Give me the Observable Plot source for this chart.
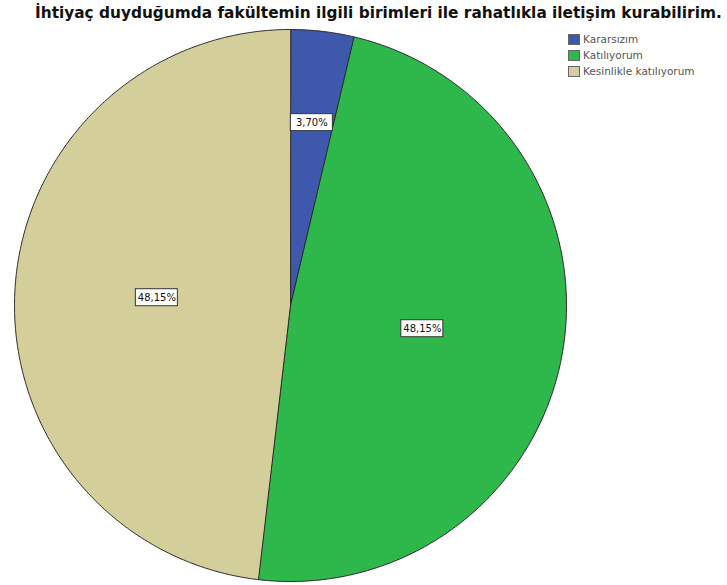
<!DOCTYPE html>
<html>
<head>
<meta charset="utf-8">
<script src="https://cdn.jsdelivr.net/npm/d3@7"></script>
<script src="https://cdn.jsdelivr.net/npm/@observablehq/plot@0.6"></script>
<style>
  body { margin: 0; background: #fff; }
  #wrap { position: relative; width: 727px; height: 585px; overflow: hidden; font-family: "DejaVu Sans", Verdana, sans-serif; }
  #title { position: absolute; top: 4px; left: 35px; font-weight: bold; font-size: 13px; color: #111; white-space: nowrap; z-index: 2; }
  #legend { position: absolute; top: 31px; left: 568px; font-size: 10.5px; color: #555; z-index: 2; }
  .item { display: flex; align-items: center; height: 16px; }
  .sw { width: 12px; height: 11px; border: 1px solid #666; margin-right: 3px; box-sizing: border-box; }
  #chart { position: absolute; top: 0; left: 0; }
</style>
</head>
<body>
<div id="wrap">
  <div id="title"></div>
  <div id="legend"></div>
  <div id="chart"></div>
</div>
<script>
const titleText = "İhtiyaç duyduğumda fakültemin ilgili birimleri ile rahatlıkla iletişim kurabilirim.";
const categories = ["Kararsızım", "Katılıyorum", "Kesinlikle katılıyorum"];
const percents = [3.70, 48.15, 48.15];
const labels = ["3,70%", "48,15%", "48,15%"];
const colors = ["#3e58ab", "#2eb74a", "#d4cf9a"];

const titleEl = document.getElementById("title");
titleEl.textContent = titleText;
// fit title to span the same width as in the reference
const targetW = 687;
const w0 = titleEl.getBoundingClientRect().width;
titleEl.style.fontSize = (13 * targetW / w0).toFixed(2) + "px";

const legend = document.getElementById("legend");
categories.forEach((c, i) => {
  const it = document.createElement("div");
  it.className = "item";
  const sw = document.createElement("div");
  sw.className = "sw";
  sw.style.background = colors[i];
  const tx = document.createElement("span");
  tx.textContent = c;
  it.appendChild(sw); it.appendChild(tx);
  legend.appendChild(it);
});

const W = 727, H = 585;
const cx = 290, cy = 305, R = 276;
const slices = d3.pie().sort(null).value(d => d.value)(
  categories.map((c, i) => ({category: c, value: percents[i], label: labels[i]}))
);

const pt = (a, r) => ({x: cx + r * Math.sin(a), y: cy - r * Math.cos(a)});
const outline = [];
slices.forEach(s => {
  const n = Math.max(4, Math.ceil((s.endAngle - s.startAngle) * 120));
  outline.push({category: s.data.category, ...pt(0, 0)});
  for (let k = 0; k <= n; k++) {
    const a = s.startAngle + (s.endAngle - s.startAngle) * k / n;
    outline.push({category: s.data.category, ...pt(a, R)});
  }
});

const boxW = 42, boxH = 17;
const labelData = slices.map(s => {
  const mid = (s.startAngle + s.endAngle) / 2;
  const frac = s.data.value < 10 ? 0.667 : 0.485;
  const p = pt(mid, R * frac);
  return {...p, label: s.data.label};
});

const chart = Plot.plot({
  width: W, height: H,
  margin: 0,
  x: {domain: [0, W], range: [0, W], axis: null},
  y: {domain: [0, H], range: [0, H], axis: null},
  color: {domain: categories, range: colors},
  marks: [
    Plot.line(outline, {x: "x", y: "y", z: "category", fill: "category", stroke: "#2a2a2a", strokeWidth: 1, curve: "linear-closed"}),
    Plot.rect(labelData, {x1: d => d.x - boxW / 2, x2: d => d.x + boxW / 2, y1: d => d.y - boxH / 2, y2: d => d.y + boxH / 2, fill: "white", stroke: "#333", strokeWidth: 1}),
    Plot.text(labelData, {x: "x", y: "y", text: "label", fontSize: 10, fill: "#111", fontFamily: "DejaVu Sans, Verdana, sans-serif"})
  ]
});
document.getElementById("chart").appendChild(chart);
</script>
</body>
</html>
